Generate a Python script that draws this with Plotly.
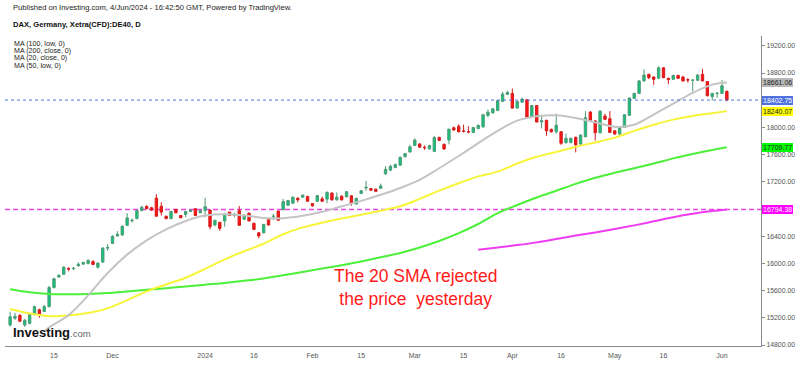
import pandas as pd
import plotly.graph_objects as go

# ---------------- DATA ----------------
holidays = ["2023-12-25", "2023-12-26", "2024-01-01", "2024-03-29", "2024-04-01", "2024-05-01"]
dates = [d.strftime("%Y-%m-%d") for d in pd.bdate_range("2023-11-02", "2024-06-04")
         if d.strftime("%Y-%m-%d") not in holidays]

opens = [15095, 15195, 15238, 15095, 15120, 15250, 15320, 15295, 15365,
         15645, 15800, 15840, 15925, 15922, 15965, 15990, 16000, 16030, 15945, 16020, 16225,
         16295, 16405, 16420, 16560, 16628, 16660, 16780, 16840, 16820, 16960, 16840, 16695,
         16660, 16795, 16705, 16720, 16765, 16805, 16745,
         16780, 16785, 16565, 16605, 16625, 16755, 16708, 16775, 16650, 16740, 16590, 16450,
         16450, 16645, 16690, 16770, 16790, 16855, 16885, 16958, 16975, 16985,
         16880, 16915, 16950, 16945, 17035, 16935, 16990, 16980, 16995, 16875, 17030, 17110,
         17102, 17092, 17105, 17320, 17372, 17410, 17445, 17570, 17640,
         17735, 17757, 17708, 17685, 17648, 17855, 17753, 17815, 17995, 18018, 17948, 17938,
         17926, 17984, 18008, 18177, 18216, 18250, 18384, 18486,
         18500, 18285, 18372, 18408, 18153, 18322, 18080, 18105, 17970, 17937, 17937, 17778,
         17778, 17855, 17758, 17864, 18226, 18096, 17922, 18168, 18129,
         17951, 17903, 18000, 18178, 18428, 18501, 18684, 18781, 18742, 18723, 18877, 18723,
         18708, 18766, 18742, 18700, 18694, 18694, 18781, 18675, 18453, 18498,
         18501, 18530]
highs = [15290, 15275, 15252, 15185, 15270, 15380, 15335, 15390, 15670,
         15790, 15840, 15960, 15945, 15950, 16015, 16025, 16060, 16045, 16020, 16240, 16285,
         16415, 16475, 16565, 16740, 16660, 16790, 16850, 16855, 16830, 17020, 16900, 16700,
         16775, 16800, 16712, 16770, 16790, 16810, 16790,
         16965, 16790, 16640, 16610, 16740, 16760, 16745, 16845, 16720, 16750, 16600, 16460,
         16580, 16650, 16730, 16775, 16950, 16935, 16985, 16975, 17015, 16995,
         16885, 17005, 16985, 17060, 17045, 17045, 17000, 17065, 17000, 16965, 17080, 17215,
         17110, 17100, 17175, 17430, 17450, 17470, 17570, 17625, 17745,
         17840, 17770, 17735, 17745, 17878, 17860, 17760, 17980, 18015, 18047, 18042, 18018,
         18005, 18040, 18200, 18265, 18280, 18400, 18525, 18540,
         18573, 18385, 18440, 18415, 18330, 18330, 18185, 18115, 17985, 18202, 17945, 17910,
         17850, 17865, 17900, 18240, 18240, 18105, 18250, 18200, 18240,
         17960, 18010, 18195, 18440, 18510, 18695, 18853, 18790, 18750, 18901, 18887, 18730,
         18775, 18770, 18760, 18725, 18710, 18785, 18863, 18680, 18510, 18520,
         18694, 18545]
lows = [15070, 15170, 15140, 15065, 15105, 15235, 15200, 15285, 15355,
        15635, 15790, 15830, 15885, 15900, 15955, 15985, 15985, 15975, 15925, 16010, 16185,
        16285, 16395, 16405, 16550, 16600, 16650, 16765, 16795, 16775, 16690, 16705, 16650,
        16650, 16740, 16665, 16680, 16755, 16700, 16740,
        16680, 16500, 16545, 16480, 16540, 16700, 16680, 16555, 16640, 16620, 16495, 16370,
        16440, 16560, 16640, 16630, 16780, 16845, 16875, 16900, 16965, 16905,
        16835, 16905, 16905, 16885, 16925, 16925, 16925, 16970, 16850, 16865, 17020, 17068,
        17070, 17050, 17095, 17300, 17360, 17400, 17440, 17560, 17630,
        17725, 17700, 17670, 17675, 17637, 17800, 17668, 17752, 17955, 17930, 17925, 17912,
        17915, 17975, 18000, 18150, 18200, 18240, 18375, 18480,
        18280, 18275, 18360, 18138, 18140, 18075, 17985, 17878, 17925, 17910, 17744, 17760,
        17765, 17633, 17740, 17855, 18095, 17806, 17910, 18110, 17920,
        17895, 17895, 17995, 18170, 18420, 18495, 18675, 18710, 18626, 18715, 18725, 18636,
        18700, 18715, 18675, 18660, 18530, 18685, 18680, 18455, 18400, 18440,
        18495, 18385]
closes = [15215, 15222, 15150, 15165, 15250, 15365, 15250, 15365, 15645,
          15775, 15825, 15945, 15918, 15928, 15990, 16015, 16045, 15985, 16005, 16225, 16235,
          16400, 16430, 16545, 16670, 16635, 16780, 16825, 16805, 16785, 16695, 16755, 16660,
          16765, 16745, 16672, 16765, 16785, 16705, 16780,
          16835, 16540, 16635, 16515, 16725, 16705, 16712, 16560, 16710, 16625, 16500, 16405,
          16575, 16565, 16695, 16635, 16910, 16925, 16975, 16935, 17005, 16915,
          16848, 16998, 16915, 17045, 16935, 16975, 16935, 17055, 16885, 16958, 17068, 17120,
          17078, 17060, 17140, 17385, 17430, 17454, 17562, 17615, 17715,
          17815, 17710, 17702, 17735, 17852, 17810, 17685, 17975, 17962, 17936, 17944, 17935,
          17999, 18032, 18187, 18225, 18274, 18394, 18491, 18515,
          18285, 18380, 18418, 18150, 18322, 18080, 18100, 17951, 17935, 18033, 17768, 17840,
          17840, 17744, 17888, 18144, 18105, 17922, 18240, 18120, 17927,
          17903, 18000, 18187, 18433, 18501, 18684, 18771, 18732, 18708, 18877, 18732, 18703,
          18766, 18723, 18684, 18698, 18696, 18771, 18684, 18467, 18501, 18503,
          18612, 18403]

# moving averages at sample sessions
ma_dates = ["2023-11-02", "2023-11-08", "2023-11-14", "2023-11-20", "2023-11-24", "2023-11-30",
            "2023-12-06", "2023-12-12", "2023-12-18", "2023-12-22", "2024-01-02", "2024-01-08",
            "2024-01-12", "2024-01-18", "2024-01-24", "2024-01-30", "2024-02-05", "2024-02-09",
            "2024-02-15", "2024-02-21", "2024-02-27", "2024-03-04", "2024-03-08", "2024-03-14",
            "2024-03-20", "2024-03-26", "2024-04-03", "2024-04-09", "2024-04-15", "2024-04-19",
            "2024-04-25", "2024-05-02", "2024-05-08", "2024-05-14", "2024-05-20", "2024-05-24",
            "2024-05-30", "2024-06-04"]
ma20_dates = ["2023-11-13", "2023-11-14", "2023-11-20", "2023-11-24", "2023-11-30",
              "2023-12-06", "2023-12-12", "2023-12-18", "2023-12-22", "2024-01-02", "2024-01-08",
              "2024-01-12", "2024-01-18", "2024-01-24", "2024-01-30", "2024-02-05", "2024-02-09",
              "2024-02-15", "2024-02-21", "2024-02-27", "2024-03-04", "2024-03-08", "2024-03-14",
              "2024-03-20", "2024-03-26", "2024-04-03", "2024-04-09", "2024-04-15", "2024-04-19",
              "2024-04-25", "2024-05-02", "2024-05-08", "2024-05-14", "2024-05-20", "2024-05-24",
              "2024-05-30", "2024-06-04"]
ma20_close = [14990, 15060, 15240, 15530, 15860, 16130, 16340, 16500, 16625, 16705, 16725,
              16705, 16670, 16665, 16700, 16760, 16840, 16920, 17010, 17110, 17230, 17400, 17580,
              17770, 17950, 18100, 18165, 18180, 18140, 18075, 18010, 18040, 18190, 18350, 18510,
              18630, 18661.06]
ma50_low = [15330, 15265, 15225, 15235, 15270, 15340, 15460, 15590, 15690, 15790, 15920, 16060,
            16180, 16290, 16430, 16530, 16600, 16660, 16715, 16775, 16840, 16950, 17070, 17180,
            17280, 17350, 17470, 17570, 17640, 17715, 17780, 17850, 17950, 18040, 18115, 18170,
            18210, 18240.07]
ma100_low = [15620, 15575, 15550, 15548, 15552, 15565, 15588, 15612, 15637, 15662, 15688, 15712,
             15745, 15780, 15825, 15875, 15925, 15975, 16030, 16090, 16155, 16235, 16330, 16445,
             16580, 16740, 16860, 16970, 17070, 17170, 17260, 17335, 17400, 17470, 17545, 17610,
             17670, 17709.77]
ma200_dates = ["2024-03-20", "2024-03-26", "2024-04-03", "2024-04-09", "2024-04-15", "2024-04-19",
               "2024-04-25", "2024-05-02", "2024-05-08", "2024-05-14", "2024-05-20", "2024-05-24",
               "2024-05-30", "2024-06-04"]
ma200_close = [16200, 16235, 16270, 16310, 16360, 16410, 16455, 16505, 16560, 16620, 16680, 16730,
               16770, 16794.38]

last_price = 18402.75

x_tick_dates = ["2023-11-15", "2023-12-01", "2024-01-02", "2024-01-16", "2024-02-01", "2024-02-15",
                "2024-03-01", "2024-03-15", "2024-04-02", "2024-04-16", "2024-05-02", "2024-05-16",
                "2024-06-03"]
x_tick_text = ["15", "Dec", "2024", "16", "Feb", "15", "Mar", "15", "Apr", "16", "May", "16", "Jun"]
y_ticks = [14800, 15200, 15600, 16000, 16400, 16800, 17200, 17600, 18000, 18400, 18800, 19200]
# the 18400 and 16800 labels sit under the price boxes in the original
y_tick_text = ["" if v in (18400, 16800) else f"{v:.2f}" for v in y_ticks]

legend_lines = ["MA (100, low, 0)", "MA (200, close, 0)", "MA (20, close, 0)", "MA (50, low, 0)"]
header = "Published on Investing.com, 4/Jun/2024 - 16:42:50 GMT, Powered by TradingView."
title = "DAX, Germany, Xetra(CFD):DE40, D"
note = "The 20 SMA rejected<br>the price  yesterday"

# ---------------- FIGURE ----------------
W, H = 800, 365
L, R, T, B = 5, 39, 36, 14
pw, ph = W - L - R, H - T - B


def px(x):
    return (x - L) / pw


def py(y):
    return (H - B - y) / ph


FONT = "Liberation Sans, Arial, sans-serif"
GRAY, YELLOW, GREEN, MAGENTA = "#c4c4c4", "#f7f43a", "#4cf03a", "#f03cf0"

fig = go.Figure()
fig.add_trace(go.Scatter(x=ma_dates, y=ma100_low, mode="lines", line=dict(color=GREEN, width=2, shape="spline"), hoverinfo="skip"))
fig.add_trace(go.Scatter(x=ma_dates, y=ma50_low, mode="lines", line=dict(color=YELLOW, width=2, shape="spline"), hoverinfo="skip"))
fig.add_trace(go.Scatter(x=ma20_dates, y=ma20_close, mode="lines", line=dict(color=GRAY, width=2, shape="spline"), hoverinfo="skip"))
fig.add_trace(go.Scatter(x=ma200_dates, y=ma200_close, mode="lines", line=dict(color=MAGENTA, width=2, shape="spline"), hoverinfo="skip"))
fig.add_trace(go.Candlestick(
    x=dates, open=opens, high=highs, low=lows, close=closes,
    increasing=dict(line=dict(color="#4c9c76", width=1), fillcolor="#12c47a"),
    decreasing=dict(line=dict(color="#d41c1c", width=1), fillcolor="#ff1414"),
    whiskerwidth=0, hoverinfo="skip"))

# horizontal price lines
fig.add_shape(type="line", xref="paper", x0=0, x1=1, yref="y", y0=ma200_close[-1], y1=ma200_close[-1],
              line=dict(color="#ea46ea", width=1.6, dash="5px,3px"), layer="below")
fig.add_shape(type="line", xref="paper", x0=0, x1=1, yref="y", y0=last_price, y1=last_price,
              line=dict(color="#5670d8", width=1, dash="dot"), layer="above")

ann = []
# price labels on the right axis
for val, bg, fg in [(ma20_close[-1], "#b9b9b9", "#222"), (last_price, "#4f72e0", "white"),
                    (ma50_low[-1], "#ffff00", "#222"), (ma100_low[-1], "#00ff00", "#222"),
                    (ma200_close[-1], "#ff00ff", "white")]:
    ann.append(dict(xref="paper", x=px(762), xanchor="left", yref="y", y=val, yanchor="middle",
                    text=f"{val:.2f}", showarrow=False, bgcolor=bg, borderpad=1, borderwidth=0,
                    font=dict(size=7, color=fg, family=FONT)))
ann.append(dict(xref="paper", x=px(11), xanchor="left", yref="paper", y=py(7), yanchor="middle",
                text=header, showarrow=False, font=dict(size=7.6, color="#222", family=FONT)))
ann.append(dict(xref="paper", x=px(11), xanchor="left", yref="paper", y=py(24), yanchor="middle",
                text="<b>" + title + "</b>", showarrow=False, font=dict(size=7.6, color="#111", family=FONT)))
for k, t in enumerate(legend_lines):
    ann.append(dict(xref="paper", x=px(12), xanchor="left", yref="paper", y=py(44 + 7.4 * k), yanchor="middle",
                    text=t, showarrow=False, font=dict(size=7.1, color="#222", family=FONT)))
ann.append(dict(xref="paper", x=px(415), xanchor="center", yref="paper", y=py(291.5), yanchor="middle",
                text=note, showarrow=False, align="center",
                font=dict(size=17.5, color="#ff1a1a", family=FONT)))
ann.append(dict(xref="paper", x=px(11), xanchor="left", yref="paper", y=py(337), yanchor="middle",
                text="<b>Investing</b><span style='font-size:9.5px;color:#666'>.com</span>",
                showarrow=False, font=dict(size=13, color="#111", family=FONT)))

fig.update_layout(
    width=W, height=H, margin=dict(l=L, r=R, t=T, b=B),
    paper_bgcolor="white", plot_bgcolor="white", showlegend=False,
    font=dict(family=FONT),
    annotations=ann,
    xaxis=dict(type="category", categoryorder="array", categoryarray=dates,
               range=[-1.05, 154], rangeslider=dict(visible=False),
               showgrid=False, zeroline=False, tickmode="array", tickvals=x_tick_dates, ticktext=x_tick_text,
               tickfont=dict(size=7, color="#555"), showline=True, linecolor="#8a8a8a", linewidth=1,
               ticks="", ticklabelstandoff=3),
    yaxis=dict(side="right", range=[14786, 19345], showgrid=False, zeroline=False,
               tickmode="array", tickvals=y_ticks, ticktext=y_tick_text,
               ticks="outside", ticklen=3, tickcolor="#8a8a8a", showline=True, linecolor="#8a8a8a",
               linewidth=1, tickfont=dict(size=6.9, color="#555")),
)

fig.write_html("out.html", config={"displayModeBar": False},
               post_script="document.body.style.margin='0';document.body.style.overflow='hidden';")
